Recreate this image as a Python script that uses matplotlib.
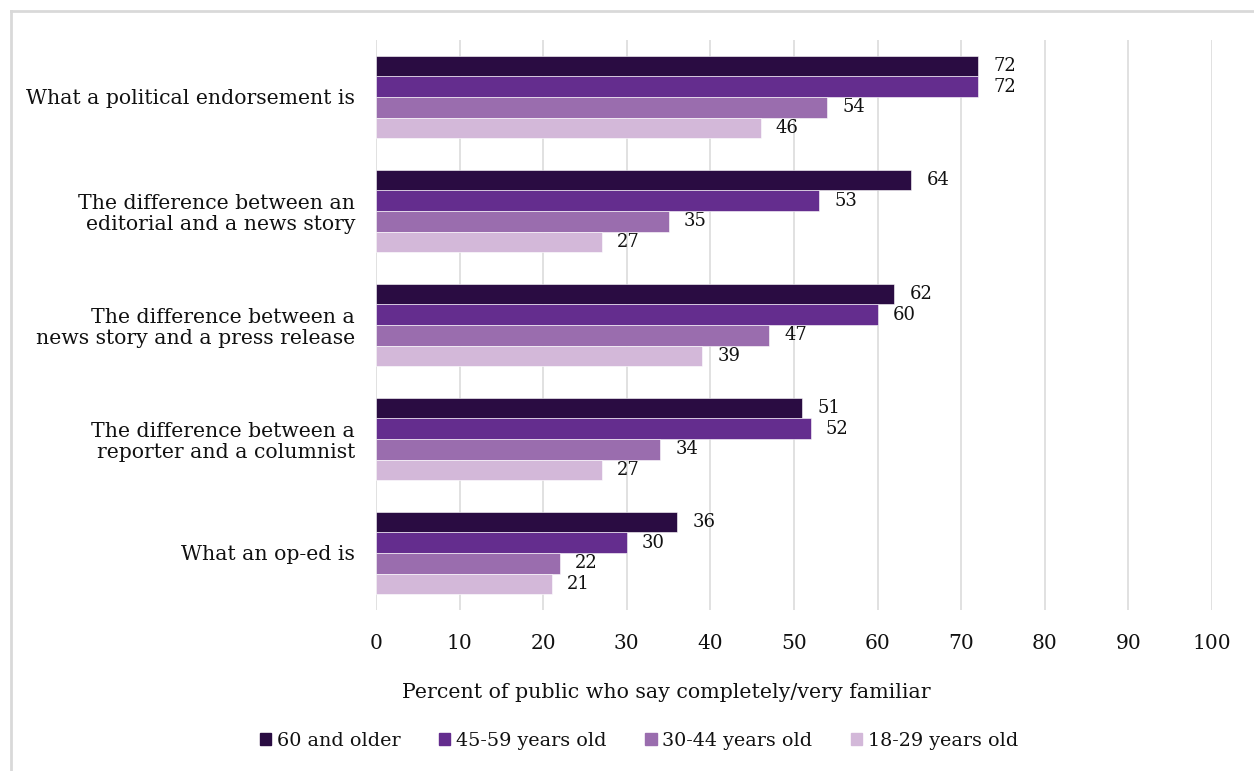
import numpy as np
import matplotlib
matplotlib.use('Agg')
import matplotlib.pyplot as plt
from matplotlib.lines import Line2D

# data ---------------------------------------------------------------
categories = ['What a political endorsement is',
              'The difference between an\neditorial and a news story',
              'The difference between a\nnews story and a press release',
              'The difference between a\nreporter and a columnist',
              'What an op-ed is']
age_groups = ['60 and older', '45-59 years old', '30-44 years old', '18-29 years old']
vals_60 = [72, 64, 62, 51, 36]
vals_45 = [72, 53, 60, 52, 30]
vals_30 = [54, 35, 47, 34, 22]
vals_18 = [46, 27, 39, 27, 21]
x_ticks = [0, 10, 20, 30, 40, 50, 60, 70, 80, 90, 100]
x_label = 'Percent of public who say completely/very familiar'

colors = ['#2a0c42', '#642d8e', '#9a6dae', '#d3b8d9']

plt.rcParams['font.family'] = ['DejaVu Serif']

W, H = 1254, 771
fig = plt.figure(figsize=(W/100, H/100), dpi=100)
ax = fig.add_axes([376/W, 1-610/H, (1212-376)/W, (610-40)/H])

series = [vals_60, vals_45, vals_30, vals_18]
y = np.arange(len(categories))
h = 0.18
for j, (lab, vals) in enumerate(zip(age_groups, series)):
    pos = y + (j-1.5)*h
    ax.barh(pos, vals, height=h, color=colors[j], label=lab,
            edgecolor='white', linewidth=0.4, zorder=3)
    for p, v in zip(pos, vals):
        ax.annotate(str(v), (v, p), xytext=(11, 0), textcoords='offset points',
                    ha='left', va='center', fontsize=13, color='#111111')

ax.set_ylim(len(categories)-0.5, -0.5)
ax.set_xlim(0, 100)
ax.set_xticks(x_ticks)
ax.set_yticks(y)
ax.set_yticklabels(categories, fontsize=14.7, ha='right', linespacing=1.1,
                   color='#111111')
ax.tick_params(axis='y', length=0, pad=15)
ax.tick_params(axis='x', length=0, pad=17, labelsize=14.5, labelcolor='#111111')
ax.grid(axis='x', color='#dedede', linewidth=1.3, zorder=0)
for s in ax.spines.values():
    s.set_visible(False)

fig.text(666/W, 1-692/H, x_label, ha='center', va='center', fontsize=14.8,
         color='#111111')

handles = [plt.Rectangle((0, 0), 1, 1, color=c) for c in colors]
leg = fig.legend(handles, age_groups, loc='center', bbox_to_anchor=(639/W, 1-741/H),
                 ncol=4, frameon=False, fontsize=13.8, handlelength=0.6,
                 handleheight=0.6, handletextpad=0.3, columnspacing=2.0)
for t in leg.get_texts():
    t.set_color('#111111')

# light frame of the chart area
fig.add_artist(Line2D([11/W, 11/W], [0, 1-11/H], transform=fig.transFigure,
                      color='#d9d9d9', linewidth=2))
fig.add_artist(Line2D([11/W, 1], [1-11/H, 1-11/H], transform=fig.transFigure,
                      color='#d9d9d9', linewidth=2))

fig.savefig('out.png', dpi=100)
